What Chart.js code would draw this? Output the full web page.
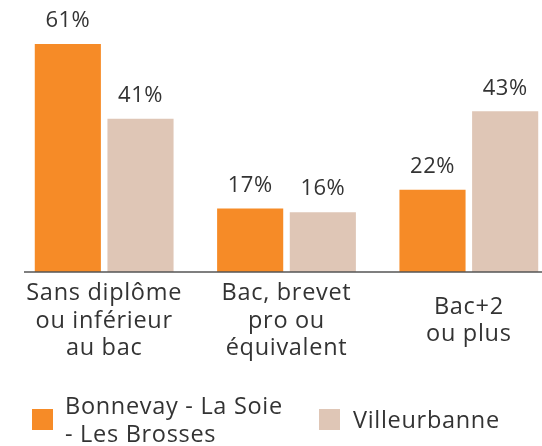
<!DOCTYPE html>
<html>
<head>
<meta charset="utf-8">
<script src="https://cdn.jsdelivr.net/npm/chart.js@4/dist/chart.umd.min.js"></script>
<style>
  html, body { margin: 0; padding: 0; background: #fff; overflow: hidden; width: 542px; height: 446px; }
  #wrap { position: relative; width: 542px; height: 446px; overflow: hidden; }
  #chart { position: absolute; left: 0; top: 0; }
  .leg { position: absolute; font-family: "Open Sans", sans-serif; font-size: 23.5px; letter-spacing: 0.7px; color: #333; line-height: 28px; white-space: nowrap; }
  .sw { position: absolute; width: 21px; height: 21px; }
</style>
</head>
<body>
<div id="wrap">
  <canvas id="chart" width="560" height="446"></canvas>
  <div class="sw" style="left:32px;top:409px;background:#F68B27"></div>
  <div class="leg" style="left:65px;top:391px">Bonnevay - La Soie<br>- Les Brosses</div>
  <div class="sw" style="left:319px;top:409px;background:#DFC6B6"></div>
  <div class="leg" style="left:353px;top:405px">Villeurbanne</div>
</div>
<script>
const categories = [
  ['Sans diplôme', 'ou inférieur', 'au bac'],
  ['Bac, brevet', 'pro ou', 'équivalent'],
  ['Bac+2', 'ou plus']
];
const bonnevay = [61, 17, 22];
const villeurbanne = [41, 16, 43];
const seriesNames = ['Bonnevay - La Soie - Les Brosses', 'Villeurbanne'];

const orange = '#F68B27';
const beige = '#DFC6B6';
const textColor = '#333';
const font = '"Open Sans", sans-serif';

// value labels above bars + category labels under the baseline
const labelsPlugin = {
  id: 'labels',
  afterDatasetsDraw(chart) {
    const ctx = chart.ctx;
    ctx.save();
    ctx.fillStyle = textColor;
    ctx.font = '22px ' + font;
    ctx.letterSpacing = '0.5px';
    ctx.textAlign = 'center';
    ctx.textBaseline = 'middle';
    chart.data.datasets.forEach((ds, di) => {
      chart.getDatasetMeta(di).data.forEach((bar, i) => {
        ctx.fillText(ds.data[i] + '%', bar.x, bar.y - 23);
      });
    });
    ctx.restore();
  },
  afterDraw(chart) {
    const ctx = chart.ctx;
    const x = chart.scales.x;
    const base = chart.scales.y.getPixelForValue(0);
    ctx.save();
    ctx.strokeStyle = '#555';
    ctx.lineWidth = 1.5;
    ctx.beginPath();
    ctx.moveTo(24, base);
    ctx.lineTo(chart.width, base);
    ctx.stroke();

    ctx.fillStyle = textColor;
    ctx.font = '23.5px ' + font;
    ctx.letterSpacing = '0.7px';
    ctx.textAlign = 'center';
    ctx.textBaseline = 'middle';
    const lh = 27.5;
    categories.forEach((lines, i) => {
      const cx = x.getPixelForValue(i);
      const mid = base + 49;
      const start = mid - (lines.length - 1) * lh / 2;
      lines.forEach((t, k) => ctx.fillText(t, cx, start + k * lh));
    });
    ctx.restore();
  }
};

new Chart(document.getElementById('chart'), {
  type: 'bar',
  data: {
    labels: categories,
    datasets: [
      { label: seriesNames[0], data: bonnevay, backgroundColor: orange },
      { label: seriesNames[1], data: villeurbanne, backgroundColor: beige }
    ]
  },
  options: {
    responsive: false,
    animation: false,
    devicePixelRatio: 1,
    layout: { padding: { left: 13, right: 0, top: 0, bottom: 166 } },
    datasets: { bar: { categoryPercentage: 0.797, barPercentage: 0.91 } },
    plugins: { legend: { display: false }, tooltip: { enabled: false } },
    scales: {
      x: { display: true, grid: { display: false }, border: { display: false }, ticks: { display: false } },
      y: { display: false, min: 0, max: 72.8 }
    }
  },
  plugins: [labelsPlugin]
});
</script>
</body>
</html>
